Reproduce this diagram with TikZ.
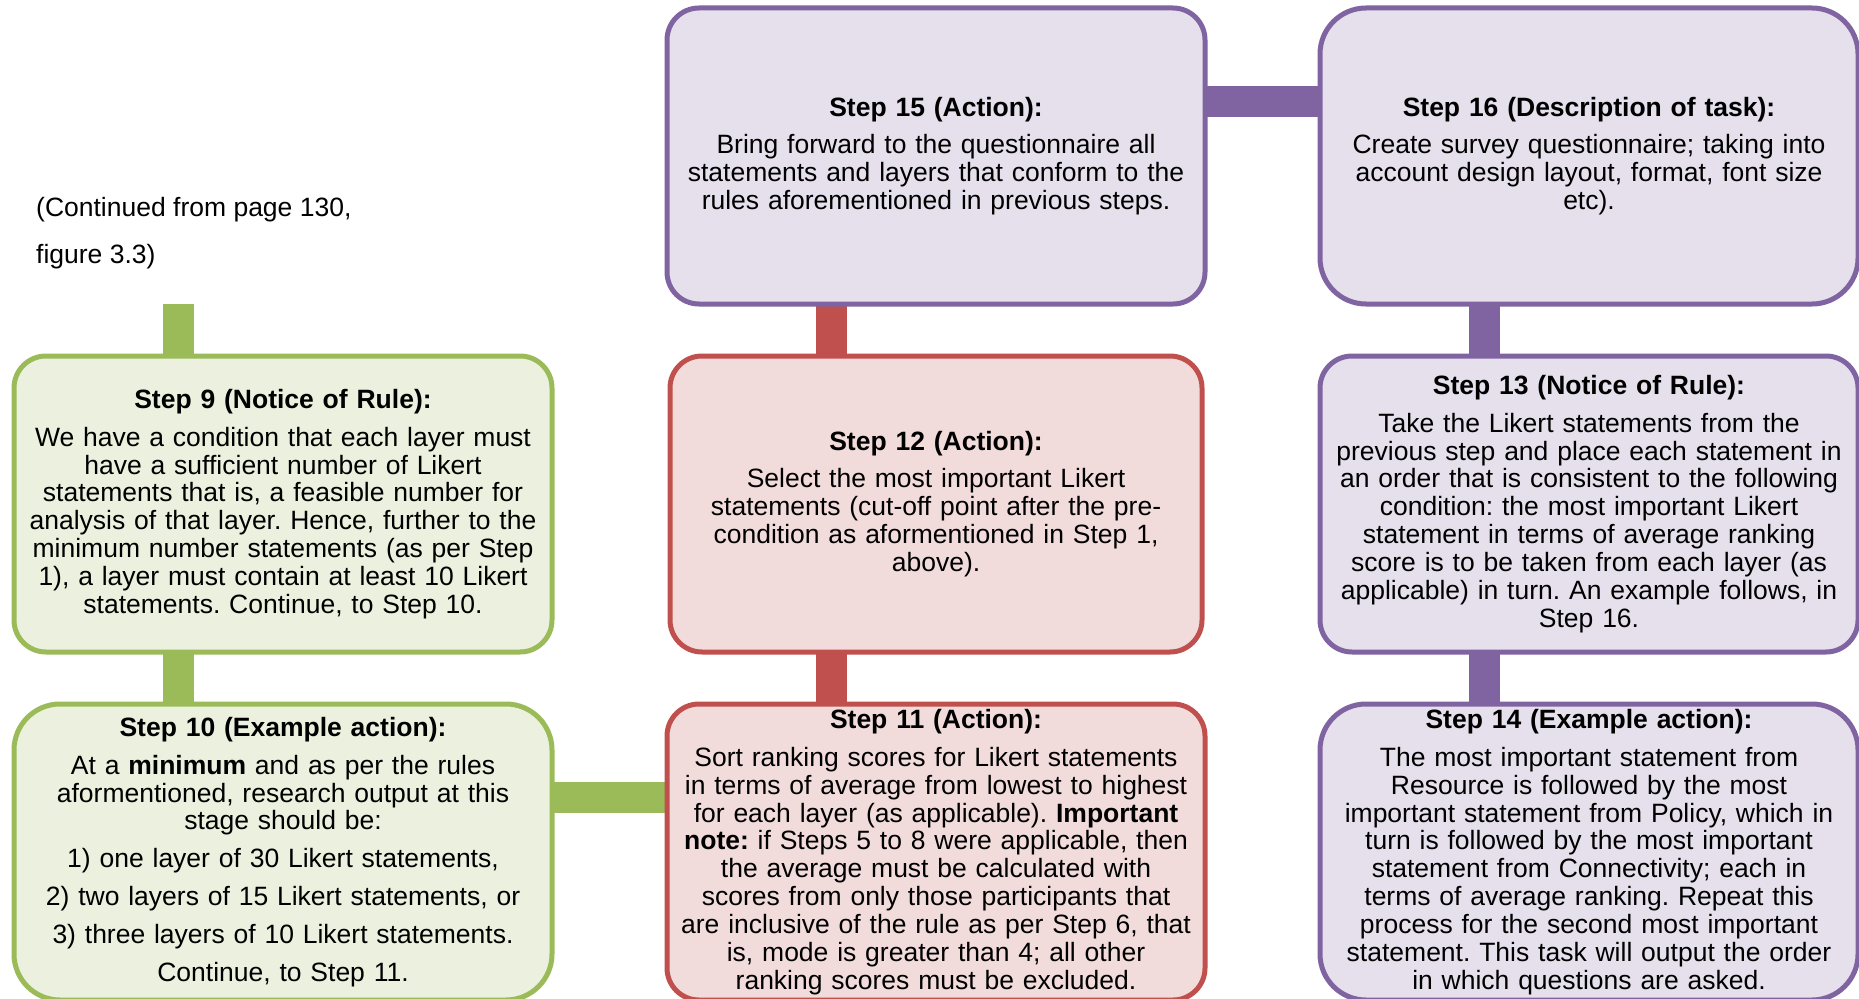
\documentclass[tikz,border=0pt]{standalone}
\usepackage{fontspec}
\setmainfont{Liberation Sans}
\usetikzlibrary{positioning, backgrounds}
\frenchspacing

\definecolor{grnline}{HTML}{9BBB59}
\definecolor{grnfill}{HTML}{EBF1DE}
\definecolor{redline}{HTML}{C0504D}
\definecolor{redfill}{HTML}{F2DCDB}
\definecolor{purline}{HTML}{8064A2}
\definecolor{purfill}{HTML}{E5E0EC}

\begin{document}
\begin{tikzpicture}[
    x=1pt, y=-1pt,
    font=\fontsize{26.5}{27.9}\selectfont,
    block/.style={draw, line width=5pt, rounded corners=32pt, align=center,
                  text width=526pt, inner xsep=6pt, inner ysep=1pt,
                  minimum width=538pt, minimum height=296pt, outer sep=0pt},
    bigcorner/.style={rounded corners=46pt},
    gblock/.style={block, draw=grnline, fill=grnfill},
    rblock/.style={block, draw=redline, fill=redfill},
    pblock/.style={block, draw=purline, fill=purfill},
    bar/.style={line width=31pt, line cap=butt},
    gbar/.style={bar, grnline},
    rbar/.style={bar, redline},
    pbar/.style={bar, purline}
]
\useasboundingbox (0,0) rectangle (1859,998);

% ---- continuation note ----
\node[anchor=base west, align=left, inner sep=0pt] (cont) at (36,263)
    {(Continued from page 130,\\[18.7pt]figure 3.3)};
\coordinate (gtop) at (178,304);

% ---- LEFT column (green) ----
\node[gblock] (s9) at (283,504) {\textbf{Step 9 (Notice of Rule):}\\[10pt]
    We have a condition that each layer must\\
    have a sufficient number of Likert\\
    statements that is, a feasible number for\\
    analysis of that layer. Hence, further to the\\
    minimum number statements (as per Step\\
    1), a layer must contain at least 10 Likert\\
    statements. Continue, to Step 10.};
\node[gblock, bigcorner, below=52pt of s9] (s10) {\textbf{Step 10 (Example action):}\\[10pt]
    At a \textbf{minimum} and as per the rules\\
    aformentioned, research output at this\\
    stage should be:\\[10pt]
    1) one layer of 30 Likert statements,\\[10pt]
    2) two layers of 15 Likert statements, or\\[10pt]
    3) three layers of 10 Likert statements.\\[10pt]
    Continue, to Step 11.};

% ---- MIDDLE column (red) ----
\node[rblock, right=115pt of s10] (s11) {\textbf{Step 11 (Action):}\\[10pt]
    Sort ranking scores for Likert statements\\
    in terms of average from lowest to highest\\
    for each layer (as applicable). \textbf{Important}\\
    \textbf{note:} if Steps 5 to 8 were applicable, then\\
    the average must be calculated with\\
    scores from only those participants that\\
    are inclusive of the rule as per Step 6, that\\
    is, mode is greater than 4; all other\\
    ranking scores must be excluded.};
\node[rblock, text width=520pt, minimum width=532pt, above=52pt of s11] (s12) {\textbf{Step 12 (Action):}\\[10pt]
    Select the most important Likert\\
    statements (cut-off point after the pre-\\
    condition as aformentioned in Step 1,\\
    above).};
\node[pblock, above=52pt of s12] (s15) {\textbf{Step 15 (Action):}\\[10pt]
    Bring forward to the questionnaire all\\
    statements and layers that conform to the\\
    rules aforementioned in previous steps.};

% ---- RIGHT column (purple) ----
\node[pblock, bigcorner, right=115pt of s15] (s16) {\textbf{Step 16 (Description of task):}\\[10pt]
    Create survey questionnaire; taking into\\
    account design layout, format, font size\\
    etc).};
\node[pblock, below=52pt of s16] (s13) {\textbf{Step 13 (Notice of Rule):}\\[10pt]
    Take the Likert statements from the\\
    previous step and place each statement in\\
    an order that is consistent to the following\\
    condition: the most important Likert\\
    statement in terms of average ranking\\
    score is to be taken from each layer (as\\
    applicable) in turn. An example follows, in\\
    Step 16.};
\node[pblock, bigcorner, below=52pt of s13] (s14) {\textbf{Step 14 (Example action):}\\[10pt]
    The most important statement from\\
    Resource is followed by the most\\
    important statement from Policy, which in\\
    turn is followed by the most important\\
    statement from Connectivity; each in\\
    terms of average ranking. Repeat this\\
    process for the second most important\\
    statement. This task will output the order\\
    in which questions are asked.};

% ---- connecting bars ----
\begin{pgfonlayer}{background}
    \draw[gbar] (gtop) -- (gtop |- s9.north);
    \draw[gbar] ([xshift=-105pt]s9.south) -- ([xshift=-105pt]s10.north);
    \draw[gbar] ([yshift=54.5pt]s10.east) -- ([yshift=54.5pt]s11.west);
    \draw[rbar] ([xshift=-105pt]s11.north) -- ([xshift=-105pt]s12.south);
    \draw[rbar] ([xshift=-105pt]s12.north) -- ([xshift=-105pt]s15.south);
    \draw[pbar] ([yshift=54.5pt]s15.east) -- ([yshift=54.5pt]s16.west);
    \draw[pbar] ([xshift=-105pt]s16.south) -- ([xshift=-105pt]s13.north);
    \draw[pbar] ([xshift=-105pt]s13.south) -- ([xshift=-105pt]s14.north);
\end{pgfonlayer}

\end{tikzpicture}
\end{document}
